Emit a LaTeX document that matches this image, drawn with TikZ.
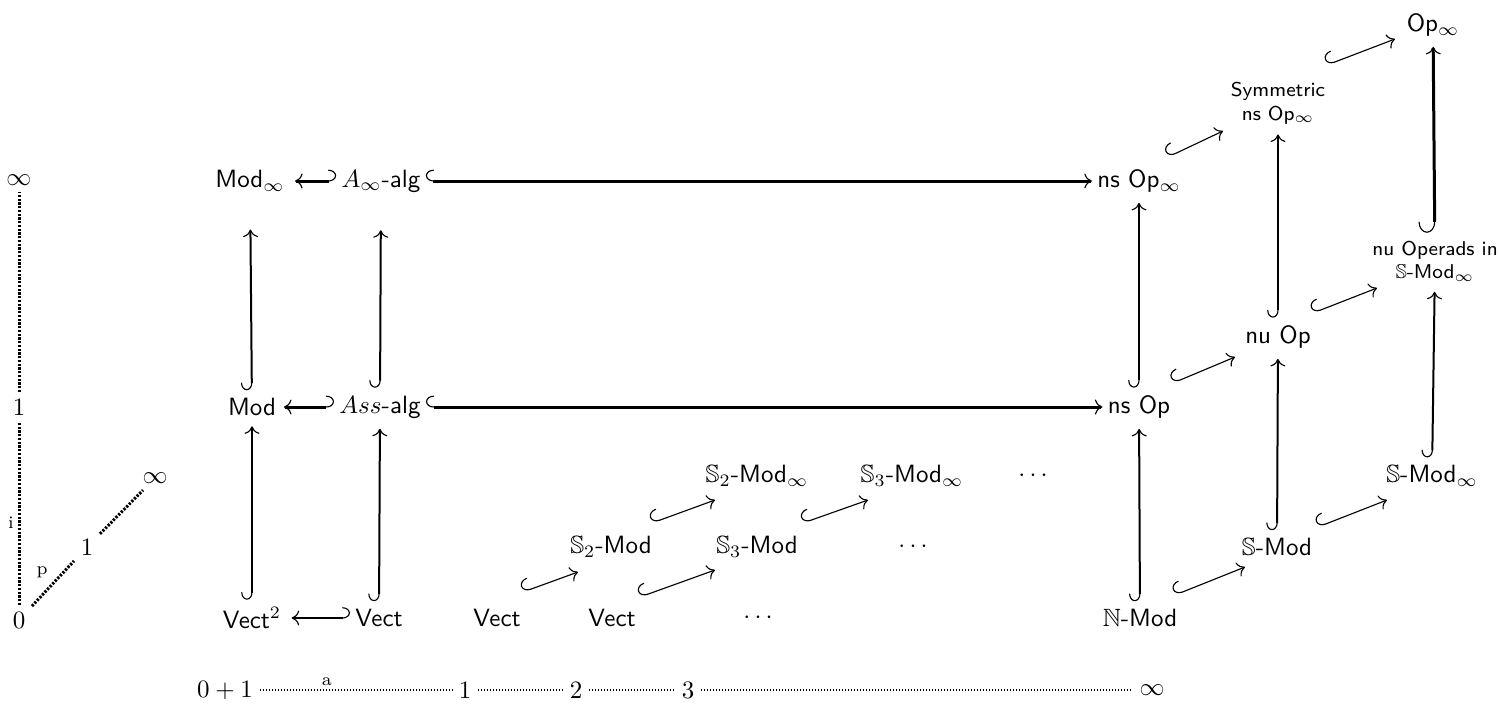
\documentclass[tikz,border=0pt]{standalone}
\usepackage{amssymb}
\usetikzlibrary{arrows.meta,cd}
\begin{document}
\begin{tikzpicture}[x=0.4pt,y=-0.4pt,
  lbl/.style={font=\sffamily, inner sep=2pt},
  sml/.style={font=\sffamily\footnotesize, align=center, inner sep=2pt},
  ax/.style={inner sep=2.5pt},
  axl/.style={font=\scriptsize, inner sep=1.5pt},
  head/.tip={To[length=3pt,width=6pt,line width=0.45pt]},
  varr/.style={{tikzcd right hook[line width=0.45pt]}-head, line width=0.8pt, shorten <=1pt, shorten >=2pt},
  harr/.style={{tikzcd right hook[line width=0.45pt,scale=0.7]}-head, line width=1.2pt},
  harrl/.style={{tikzcd left hook[line width=0.45pt,scale=0.7]}-head, line width=1.2pt},
  hvarr/.style={{tikzcd left hook[line width=0.45pt]}-head, line width=0.8pt},
  darr/.style={{tikzcd right hook[line width=0.45pt,scale=2]}-head, line width=0.45pt},
  adot/.style={line width=1.2pt, dash pattern=on 0.9pt off 0.6pt},
  bdot/.style={line width=0.8pt, dash pattern=on 0.5pt off 0.7pt},
]
\useasboundingbox (0,0) rectangle (1499,708);

% left axes
\node[ax] (L0) at (19,620) {$0$};
\node[ax] (L1) at (19,407) {$1$};
\node[ax] (Linf) at (19,180) {$\infty$};
\node[ax] (P1) at (87,547) {$1$};
\node[ax] (Pinf) at (155,478) {$\infty$};
\draw[adot] (L0) -- node[axl, left, pos=0.45] {i} (L1);
\draw[adot] (L1) -- (Linf);
\draw[adot] (L0) -- node[axl, above left, pos=0.5] {p} (P1);
\draw[adot] (P1) -- (Pinf);

% bottom axis
\node[ax] (B0) at (225,690) {$0+1$};
\node[ax] (B1) at (465,690) {$1$};
\node[ax] (B2) at (576,690) {$2$};
\node[ax] (B3) at (688,690) {$3$};
\node[ax] (Binf) at (1152,690) {$\infty$};
\draw[bdot] (B0) -- node[axl, above, pos=0.35] {a} (B1);
\draw[bdot] (B1) -- (B2);
\draw[bdot] (B2) -- (B3);
\draw[bdot] (B3) -- (Binf);

% main nodes
\node[lbl] (Minf) at (250,181) {Mod$_\infty$};
\node[lbl] (Ainf) at (381,181) {$A_\infty$-alg};
\node[lbl] (nsOpinf) at (1139,181) {ns Op$_\infty$};
\node[lbl] (Mod) at (252,407) {Mod};
\node[lbl] (Ass) at (380,407) {$Ass$-alg};
\node[lbl] (nsOp) at (1139,407) {ns Op};
\node[lbl] (Vect2) at (252,618) {Vect$^2$};
\node[lbl] (Vect1) at (379,618) {Vect};
\node[lbl] (VectA) at (497,618) {Vect};
\node[lbl] (VectB) at (612,618) {Vect};
\node[lbl] (dotsA) at (758,618) {$\cdots$};
\node[lbl] (NMod) at (1140,618) {$\mathbb{N}$-Mod};
\node[lbl] (S2) at (611,547) {$\mathbb{S}_2$-Mod};
\node[lbl] (S3) at (757,547) {$\mathbb{S}_3$-Mod};
\node[lbl] (dotsB) at (913,547) {$\cdots$};
\node[lbl] (S2inf) at (757,476) {$\mathbb{S}_2$-Mod$_\infty$};
\node[lbl] (S3inf) at (912,476) {$\mathbb{S}_3$-Mod$_\infty$};
\node[lbl] (dotsC) at (1033,476) {$\cdots$};
\node[lbl] (SMod) at (1277,547) {$\mathbb{S}$-Mod};
\node[lbl] (SModinf) at (1432,476) {$\mathbb{S}$-Mod$_\infty$};
\node[lbl] (nuOp) at (1278,337) {nu Op};
\node[sml] (nuOper) at (1435,261) {nu Operads in\\$\mathbb{S}$-Mod$_\infty$};
\node[sml] (Symm) at (1278,103) {Symmetric\\ns Op$_\infty$};
\node[lbl] (Opinf) at (1433,25) {Op$_\infty$};

% horizontal arrows
\draw[harrl, shorten >=2pt] (Ainf) -- (Minf);
\draw[harr] (Ainf) -- (nsOpinf);
\draw[harrl, shorten >=1pt] (Ass) -- (Mod);
\draw[harr] (Ass) -- (nsOp);
\draw[hvarr, shorten >=2pt] (Vect1) -- (Vect2);

% vertical arrows
\draw[varr] (Vect2) -- (Mod);
\draw[varr, shorten >=13pt] (Mod) -- (Minf);
\draw[varr] (Vect1) -- (Ass);
\draw[varr, shorten >=13pt] (Ass) -- (Ainf);
\draw[varr] (NMod) -- (nsOp);
\draw[varr] (nsOp) -- (nsOpinf);
\draw[varr] (SMod) -- (nuOp);
\draw[varr] (nuOp) -- (Symm);
\draw[varr] (SModinf) -- (nuOper);
\draw[varr, line width=1.2pt] (nuOper) -- (Opinf);

% diagonal arrows
\draw[darr] ([shift={(29,-24)}]nsOpinf.center) -- ([shift={(-55,28)}]Symm.center);
\draw[darr] ([shift={(49,-38)}]Symm.center) -- ([shift={(-38,14)}]Opinf.center);
\draw[darr] ([shift={(34,-24)}]nsOp.center) -- ([shift={(-43,20)}]nuOp.center);
\draw[darr] ([shift={(35,-24)}]nuOp.center) -- ([shift={(-58,27)}]nuOper.center);
\draw[darr] ([shift={(35,-23)}]NMod.center) -- ([shift={(-32,20)}]SMod.center);
\draw[darr] ([shift={(41,-20)}]SMod.center) -- ([shift={(-45,24)}]SModinf.center);
\draw[darr] ([shift={(26,-26)}]VectA.center) -- ([shift={(-33,25)}]S2.center);
\draw[darr] ([shift={(28,-21)}]VectB.center) -- ([shift={(-42,23)}]S3.center);
\draw[darr] ([shift={(41,-24)}]S2.center) -- ([shift={(-42,24)}]S2inf.center);
\draw[darr] ([shift={(46,-24)}]S3.center) -- ([shift={(-44,24)}]S3inf.center);
\end{tikzpicture}
\end{document}
